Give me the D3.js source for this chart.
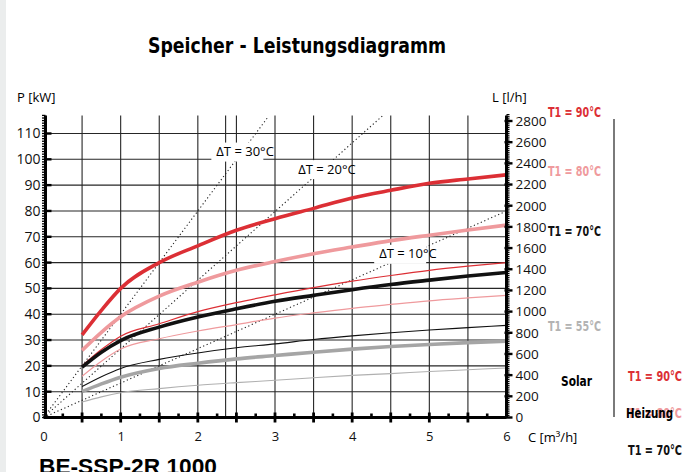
<!DOCTYPE html>
<html>
<head>
<meta charset="utf-8">
<script src="https://cdn.jsdelivr.net/npm/d3@7"></script>
<style>
  body { margin: 0; background: #fff; }
  svg text { font-family: "Open Sans", "Noto Sans", sans-serif; }
  .cond { font-family: "Liberation Sans Narrow", "DejaVu Sans Condensed", "Roboto", sans-serif; font-weight: bold; font-stretch: condensed; }
</style>
</head>
<body>
<div id="chart"></div>
<script>
// ---- data ----
const flowTicks = [0, 1, 2, 3, 4, 5, 6]
const powerTicks = [0, 10, 20, 30, 40, 50, 60, 70, 80, 90, 100, 110]
const litreTicks = [0, 200, 400, 600, 800, 1000, 1200, 1400, 1600, 1800, 2000, 2200, 2400, 2600, 2800]
const gridFlows = [0.5, 1, 1.5, 2, 2.36, 2.5, 3, 3.5, 4, 4.5, 5, 5.5, 6]
const gridPowers = [10, 20, 30, 40, 50, 60, 70, 80, 90, 100, 110]

// flow C [m3/h] where the curves were read
const flow = [0.5, 0.75, 1, 1.5, 2, 2.5, 3, 3.5, 4, 4.5, 5, 5.5, 6]
// power P [kW], thick curves
const thick90 = [32, 41.5, 50, 60, 66.5, 72.5, 77, 81, 85, 88, 90.7, 92.4, 94]
const thick80 = [26, 33, 39, 47, 52.4, 57, 60.4, 63.4, 66, 68.5, 70.6, 72.6, 74.5]
const thick70 = [19.5, 25.3, 29.8, 35, 38.9, 42.1, 45, 47.3, 49.5, 51.5, 53.2, 54.8, 56.2]
const thick55 = [10, 13, 15.6, 19, 21, 22.7, 24, 25.3, 26.5, 27.5, 28.3, 29, 29.6]
// power P [kW], thin curves
const thin90 = [20, 26.3, 31.5, 36.3, 41, 44.5, 47.5, 50.3, 52.8, 55, 57, 58.6, 60]
const thin80 = [16, 21.8, 26.5, 30.5, 33.5, 36, 38.5, 40.5, 42.3, 43.8, 45.2, 46.3, 47.3]
const thin70 = [12, 15.8, 19, 22.5, 25, 27, 28.5, 30.2, 31.6, 32.8, 33.9, 34.8, 35.7]
const thin55 = [6, 8, 9.6, 11.2, 12.5, 13.5, 14.4, 15.4, 16.3, 17, 17.8, 18.5, 19.2]

// dotted delta-T lines: from origin to end point
const dtLabels = ["\u0394T = 30\u00b0C", "\u0394T = 20\u00b0C", "\u0394T = 10\u00b0C"]
const dtEndFlow = [2.9, 4.4, 6]
const dtEndPower = [116, 117, 80]

const legendLeft = ["T1 = 90\u00b0C", "T1 = 80\u00b0C", "T1 = 70\u00b0C", "T1 = 55\u00b0C"]
const legendRight = ["T1 = 90\u00b0C", "T1 = 80\u00b0C", "T1 = 70\u00b0C"]

// ---- layout ----
const W = 689, H = 472
const red = "#dc2f35", pink = "#ef9a9d", black = "#111", gray = "#a5a5a5"

const svg = d3.select("#chart")
    .append("svg")
    .attr("width", W)
    .attr("height", H)

svg.append("rect").attr("x", 0).attr("y", 0).attr("width", 6).attr("height", H).attr("fill", "#ebeded")

const x = d3.scaleLinear().domain([0, 6]).range([43.5, 506.5])
const y = d3.scaleLinear().domain([0, 110]).range([417.5, 133.5])
const yL = d3.scaleLinear().domain([0, 2800]).range([417.5, 121])
const pTop = 117

// title
svg.append("text")
    .attr("class", "cond")
    .attr("x", 148).attr("y", 53)
    .attr("textLength", 298).attr("lengthAdjust", "spacingAndGlyphs")
    .style("font-size", "21px")
    .text("Speicher - Leistungsdiagramm")

// grid
const grid = svg.append("g").attr("stroke", "#262626").attr("stroke-width", 1.1)
grid.selectAll("line.h").data(gridPowers).join("line")
    .attr("class", "h")
    .attr("x1", x(0)).attr("x2", x(6))
    .attr("y1", d => y(d)).attr("y2", d => y(d))
grid.selectAll("line.v").data(gridFlows).join("line")
    .attr("class", "v")
    .attr("x1", d => x(d)).attr("x2", d => x(d))
    .attr("y1", y(0)).attr("y2", y(pTop))

// dotted delta-T lines
svg.append("g").selectAll("line").data(dtEndFlow).join("line")
    .attr("x1", x(0)).attr("y1", y(0))
    .attr("x2", d => x(d)).attr("y2", (d, i) => y(dtEndPower[i]))
    .attr("stroke", "#222").attr("stroke-width", 1.1)
    .attr("stroke-dasharray", "1.2,2.6")

// delta-T labels with white box
const dtPos = [[2.24, 103], [3.3, 96.2], [4.35, 63.4]]
const dtG = svg.append("g")
dtLabels.forEach(function (t, i) {
    const tx = x(dtPos[i][0]), ty = y(dtPos[i][1])
    dtG.append("rect")
        .attr("x", tx - 5).attr("y", ty - 9)
        .attr("width", 52).attr("height", 19)
        .attr("fill", "#fff")
    dtG.append("text")
        .attr("x", tx).attr("y", ty)
        .attr("dy", "0.35em")
        .style("font-size", "13px")
        .text(t)
})

// curves
const line = d3.line()
    .x(d => x(d[0]))
    .y(d => y(d[1]))
    .curve(d3.curveMonotoneX)

const curves = [
    { v: thin55, c: "#b0b0b0", w: 1.1 },
    { v: thin70, c: black, w: 1.1 },
    { v: thin80, c: pink, w: 1.2 },
    { v: thin90, c: red, w: 1.2 },
    { v: thick55, c: gray, w: 3.6 },
    { v: thick70, c: black, w: 3.6 },
    { v: thick80, c: pink, w: 3.6 },
    { v: thick90, c: red, w: 3.6 }
]
svg.append("g").selectAll("path").data(curves).join("path")
    .attr("d", d => line(flow.map((f, i) => [f, d.v[i]])))
    .attr("fill", "none")
    .attr("stroke", d => d.c)
    .attr("stroke-width", d => d.w)

// ---- axes ----
// left axis
svg.append("line")
    .attr("x1", x(0) + 2).attr("x2", x(0) + 2)
    .attr("y1", y(0)).attr("y2", y(pTop))
    .attr("stroke", "#000").attr("stroke-width", 3)
svg.append("g").selectAll("line").data(d3.range(0, pTop + 1, 1)).join("line")
    .attr("x1", x(0) - 1.5).attr("x2", x(0) + 2)
    .attr("y1", d => y(d)).attr("y2", d => y(d))
    .attr("stroke", "#000").attr("stroke-width", 1.3)
svg.append("g").selectAll("line").data(powerTicks).join("line")
    .attr("x1", x(0) + 2).attr("x2", x(0) + 8)
    .attr("y1", d => y(d)).attr("y2", d => y(d))
    .attr("stroke", "#000").attr("stroke-width", 2.4)
svg.append("g")
    .attr("transform", `translate(${x(0) - 1}, 0)`)
    .call(d3.axisLeft(y).tickValues(powerTicks).tickFormat(d3.format("d")).tickSize(0).tickPadding(2))
    .call(g => g.select(".domain").remove())
    .selectAll("text").style("font-size", "14px").style("font-family", "Open Sans").attr("fill", "#111")

// right axis
svg.append("line")
    .attr("x1", x(6)).attr("x2", x(6))
    .attr("y1", y(0)).attr("y2", y(pTop))
    .attr("stroke", "#000").attr("stroke-width", 3)
svg.append("g").selectAll("line").data(d3.range(0, 2861, 20)).join("line")
    .attr("x1", x(6)).attr("x2", x(6) + 3)
    .attr("y1", d => yL(d)).attr("y2", d => yL(d))
    .attr("stroke", "#000").attr("stroke-width", 1.3)
svg.append("g").selectAll("line").data(litreTicks).join("line")
    .attr("x1", x(6) - 2).attr("x2", x(6) + 6)
    .attr("y1", d => yL(d)).attr("y2", d => yL(d))
    .attr("stroke", "#000").attr("stroke-width", 2.4)
svg.append("g")
    .attr("transform", `translate(${x(6)}, 0)`)
    .call(d3.axisRight(yL).tickValues(litreTicks).tickFormat(d3.format("d")).tickSize(0).tickPadding(9))
    .call(g => g.select(".domain").remove())
    .selectAll("text").style("font-size", "13.5px").style("font-family", "Open Sans").attr("fill", "#111")

// bottom axis
svg.append("line")
    .attr("x1", x(0)).attr("x2", x(6))
    .attr("y1", y(0)).attr("y2", y(0))
    .attr("stroke", "#000").attr("stroke-width", 3.2)
svg.append("g").selectAll("line").data(d3.range(0.25, 6, 0.5)).join("line")
    .attr("x1", d => x(d)).attr("x2", d => x(d))
    .attr("y1", y(0) - 4).attr("y2", y(0))
    .attr("stroke", "#000").attr("stroke-width", 2.6)
svg.append("g").selectAll("line").data(d3.range(0.5, 6, 0.5)).join("line")
    .attr("x1", d => x(d)).attr("x2", d => x(d))
    .attr("y1", y(0) - 5).attr("y2", y(0) + 5)
    .attr("stroke", "#000").attr("stroke-width", 2.8)
svg.append("g")
    .attr("transform", `translate(0, ${y(0)})`)
    .call(d3.axisBottom(x).tickValues(flowTicks).tickFormat(d3.format("d")).tickSize(0).tickPadding(14))
    .call(g => g.select(".domain").remove())
    .selectAll("text").style("font-size", "13px").style("font-family", "Open Sans").attr("fill", "#111")

// axis titles
svg.append("text").attr("x", 17).attr("y", 102).style("font-size", "13px").text("P [kW]")
svg.append("text").attr("x", 492).attr("y", 102).style("font-size", "13px").text("L [l/h]")
svg.append("text").attr("x", 528).attr("y", 442).style("font-size", "13px").text("C [m\u00b3/h]")

// legend
const legColors = [red, pink, black, "#b3b3b3"]
const legY = [112, 171, 231.5, 326]
legendLeft.forEach(function (t, i) {
    svg.append("text")
        .attr("class", "cond")
        .attr("x", 548).attr("y", legY[i]).attr("dy", "0.35em")
        .attr("textLength", 53).attr("lengthAdjust", "spacingAndGlyphs")
        .attr("fill", legColors[i])
        .style("font-size", "14px")
        .text(t)
})
svg.append("text")
    .attr("class", "cond")
    .attr("x", 561).attr("y", 381).attr("dy", "0.35em")
    .attr("textLength", 31).attr("lengthAdjust", "spacingAndGlyphs")
    .style("font-size", "14px")
    .text("Solar")

svg.append("line")
    .attr("x1", 614).attr("x2", 614).attr("y1", 119).attr("y2", 417)
    .attr("stroke", "#7a7a7a").attr("stroke-width", 2)

const legRY = [376, 413, 450]
const legRColors = [red, pink, black]
legendRight.forEach(function (t, i) {
    svg.append("text")
        .attr("class", "cond")
        .attr("x", 628).attr("y", legRY[i]).attr("dy", "0.35em")
        .attr("textLength", 54).attr("lengthAdjust", "spacingAndGlyphs")
        .attr("fill", legRColors[i])
        .style("font-size", "14px")
        .text(t)
})
svg.append("text")
    .attr("class", "cond")
    .attr("x", 626).attr("y", 413).attr("dy", "0.35em")
    .attr("textLength", 47).attr("lengthAdjust", "spacingAndGlyphs")
    .style("font-size", "14px")
    .text("Heizung")

// product name
svg.append("text")
    .attr("x", 39).attr("y", 474)
    .attr("textLength", 178).attr("lengthAdjust", "spacingAndGlyphs")
    .style("font-family", "Liberation Sans, Arial, sans-serif")
    .style("font-weight", "bold")
    .style("font-size", "22px")
    .text("BE-SSP-2R 1000")
</script>
</body>
</html>
